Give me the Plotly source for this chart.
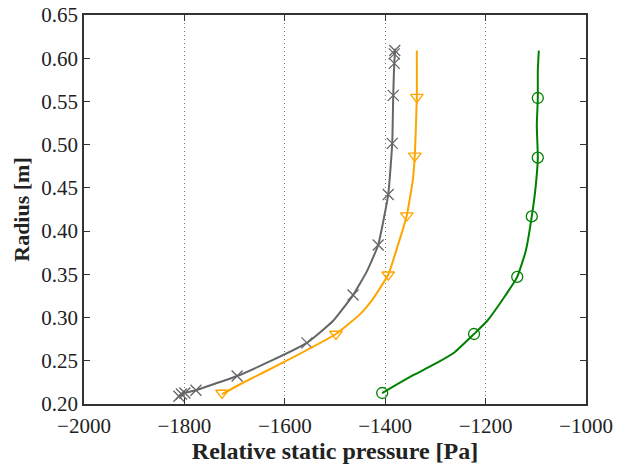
import plotly.graph_objects as go

# Gray (x) series: line path and marker positions
gray_line_p = [-1811, -1799, -1777, -1739, -1695, -1629, -1556, -1504, -1464, -1436, -1414, -1394, -1386, -1384, -1382, -1380]
gray_line_r = [0.209, 0.2127, 0.216, 0.2235, 0.2324, 0.2495, 0.2707, 0.296, 0.326, 0.354, 0.384, 0.4423, 0.5015, 0.557, 0.594, 0.611]
gray_mark_p = [-1811, -1806, -1799, -1777, -1695, -1556, -1464, -1414, -1394, -1386, -1384, -1382, -1382, -1381]
gray_mark_r = [0.209, 0.2115, 0.2127, 0.216, 0.2324, 0.2707, 0.326, 0.384, 0.4423, 0.5015, 0.557, 0.594, 0.605, 0.609]

# Orange (triangle) series
orange_line_p = [-1725, -1685, -1605, -1498, -1450, -1424, -1394, -1375, -1357, -1345, -1341, -1337, -1337]
orange_line_r = [0.2115, 0.224, 0.2475, 0.281, 0.304, 0.322, 0.3495, 0.383, 0.418, 0.459, 0.4876, 0.555, 0.609]
orange_mark_p = [-1725, -1498, -1394, -1357, -1341, -1337]
orange_mark_r = [0.2127, 0.281, 0.3495, 0.418, 0.487, 0.555]

# Green (circle) series
green_line_p = [-1406, -1386, -1347, -1301, -1261, -1223, -1197, -1165, -1137, -1120, -1108, -1100, -1096, -1098, -1096, -1096, -1094]
green_line_r = [0.2127, 0.2196, 0.2324, 0.2463, 0.2602, 0.281, 0.296, 0.3217, 0.347, 0.377, 0.417, 0.453, 0.485, 0.522, 0.554, 0.586, 0.609]
green_mark_p = [-1406, -1223, -1137, -1108, -1096, -1096]
green_mark_r = [0.2127, 0.281, 0.347, 0.417, 0.485, 0.554]

x_ticks = [-2000, -1800, -1600, -1400, -1200, -1000]
y_ticks = [0.20, 0.25, 0.30, 0.35, 0.40, 0.45, 0.50, 0.55, 0.60, 0.65]

GRAY = "#666666"
ORANGE = "#FFA500"
GREEN = "#008000"

fig = go.Figure()

for lp, lr, mp, mr, col, sym in [
    (gray_line_p, gray_line_r, gray_mark_p, gray_mark_r, GRAY, "x-thin-open"),
    (orange_line_p, orange_line_r, orange_mark_p, orange_mark_r, ORANGE, "triangle-down-open"),
    (green_line_p, green_line_r, green_mark_p, green_mark_r, GREEN, "circle-open"),
]:
    fig.add_trace(go.Scatter(x=lp, y=lr, mode="lines", line=dict(color=col, width=2, shape="spline", smoothing=0.4),
                             showlegend=False, hoverinfo="skip"))
    fig.add_trace(go.Scatter(x=mp, y=mr, mode="markers",
                             marker=dict(symbol=sym, size=11, color=col, line=dict(color=col, width=1.3)),
                             showlegend=False))

font_family = "Liberation Serif, DejaVu Serif, serif"

fig.update_layout(
    width=627, height=464,
    margin=dict(l=84, r=41, t=15, b=60),
    paper_bgcolor="white", plot_bgcolor="white",
    font=dict(family=font_family, size=21, color="#222222"),
    xaxis=dict(
        range=[-2000, -1000], tickvals=x_ticks, ticks="inside", ticklen=6, tickcolor="#333333",
        mirror="ticks", showline=True, linecolor="#333333", linewidth=1.5,
        showgrid=True, gridcolor="#777777", griddash="1px,3px", gridwidth=1,
        zeroline=False, tickfont=dict(size=21), automargin=False, ticklabelstandoff=2,
        title=dict(text="<b>Relative static pressure [Pa]</b>", font=dict(size=24), standoff=0),
    ),
    yaxis=dict(
        range=[0.20, 0.65], tickvals=y_ticks, tickformat=".2f", ticks="inside", ticklen=6, tickcolor="#333333",
        mirror="ticks", showline=True, linecolor="#333333", linewidth=1.5,
        showgrid=False, zeroline=False, tickfont=dict(size=21), automargin=False,
        title=dict(text="<b>Radius [m]</b>", font=dict(size=22), standoff=6),
    ),
)

fig.write_html("out.html")
